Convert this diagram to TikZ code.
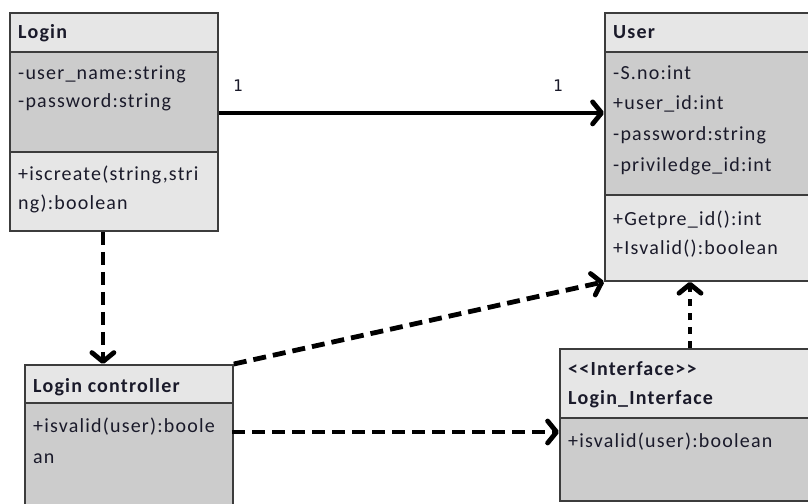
\documentclass[tikz,border=0pt]{standalone}
\usepackage{fontspec}
\setmainfont[LetterSpace=6]{Carlito}
\newfontfamily\numfont{DejaVu Sans Mono}
\usetikzlibrary{arrows.meta}
\definecolor{lightbg}{HTML}{E6E6E6}
\definecolor{midbg}{HTML}{CCCCCC}
\definecolor{edge}{HTML}{3C3C3C}
\definecolor{ink}{HTML}{1A1A2A}
\tikzset{
  box/.style={draw=edge, line width=1.8pt, inner sep=0pt, anchor=north west, fill=none},
  txt/.style={anchor=base west, inner sep=0pt, text=ink, font=\fontsize{20}{24}\selectfont},
  ttl/.style={txt, font=\fontsize{20}{24}\selectfont\bfseries},
  mult/.style={anchor=base, inner sep=0pt, text=ink, font=\numfont\fontsize{16}{19}\selectfont},
  conn/.style={line width=4.8pt, -{Straight Barb[length=9pt,width=22pt,round]}},
  dashconn/.style={conn, dash pattern=on 13pt off 7pt},
  dotconn/.style={conn, dash pattern=on 7pt off 7pt},
  divider/.style={draw=edge, line width=1.8pt}
}
\begin{document}
\begin{tikzpicture}[x=1pt,y=-1pt]
\useasboundingbox (0,0) rectangle (808,503);
\begin{scope}
\clip (0,0) rectangle (808,503);
% ---- Login ----
\fill[lightbg] (9,12) rectangle (217,52);
\fill[midbg] (9,52) rectangle (217,152);
\fill[lightbg] (9,152) rectangle (217,230);
\node[box, minimum width=208pt, minimum height=218pt] (login) at (9,12) {};
\draw[divider] (9,52) -- (217,52);
\draw[divider] (9,152) -- (217,152);
\node[ttl] (loginT) at (18,39) {Login};
\node[txt] (loginA1) at (18,79) {-user\_name:string};
\node[txt] (loginA2) at (18,107) {-password:string};
\node[txt] (loginM1) at (18,180) {+iscreate(string,stri};
\node[txt] (loginM2) at (18,209) {ng):boolean};
% ---- User ----
\fill[lightbg] (604,12) rectangle (812,52);
\fill[midbg] (604,52) rectangle (812,195);
\fill[lightbg] (604,195) rectangle (812,280);
\node[box, minimum width=208pt, minimum height=268pt] (user) at (604,12) {};
\draw[divider] (604,52) -- (812,52);
\draw[divider] (604,195) -- (812,195);
\node[ttl] (userT) at (613,39) {User};
\node[txt] (userA1) at (613,79) {-S.no:int};
\node[txt] (userA2) at (613,109) {+user\_id:int};
\node[txt] (userA3) at (613,140) {-password:string};
\node[txt] (userA4) at (613,171) {-priviledge\_id:int};
\node[txt] (userM1) at (613,225) {+Getpre\_id():int};
\node[txt] (userM2) at (613,254) {+Isvalid():boolean};
% ---- Login controller ----
\fill[lightbg] (24,364) rectangle (232,403);
\fill[midbg] (24,403) rectangle (232,520);
\node[box, minimum width=208pt, minimum height=156pt] (ctrl) at (24,364) {};
\draw[divider] (24,403) -- (232,403);
\node[ttl] (ctrlT) at (33,392) {Login controller};
\node[txt] (ctrlM1) at (33,432) {+isvalid(user):boole};
\node[txt] (ctrlM2) at (33,463) {an};
% ---- Login_Interface ----
\fill[lightbg] (559,348) rectangle (812,418);
\fill[midbg] (559,418) rectangle (812,500);
\node[box, minimum width=253pt, minimum height=152pt] (iface) at (559,348) {};
\draw[divider] (559,418) -- (812,418);
\node[ttl] (ifaceS) at (568,375) {{<}{<}Interface{>}{>}};
\node[ttl] (ifaceT) at (568,404) {Login\_Interface};
\node[txt] (ifaceM1) at (568,447) {+isvalid(user):boolean};
\end{scope}
% ---- connectors ----
\coordinate (a1) at ([yshift=9pt]login.east);
\draw[conn] (a1) -- (a1 -| user.west);
\node[mult] (m1) at (238,91) {1};
\node[mult] (m2) at (558,91) {1};
\coordinate (a2) at ([xshift=-11pt]login.south);
\draw[dashconn] (a2) -- (a2 |- ctrl.north);
\draw[dashconn] (ctrl.north east) -- (user.south west);
\coordinate (a3) at (232,432);
\draw[dashconn] (a3) -- (a3 -| iface.west);
\coordinate (a4) at (690,348);
\draw[dotconn] (a4) -- (a4 |- user.south);
\end{tikzpicture}
\end{document}
